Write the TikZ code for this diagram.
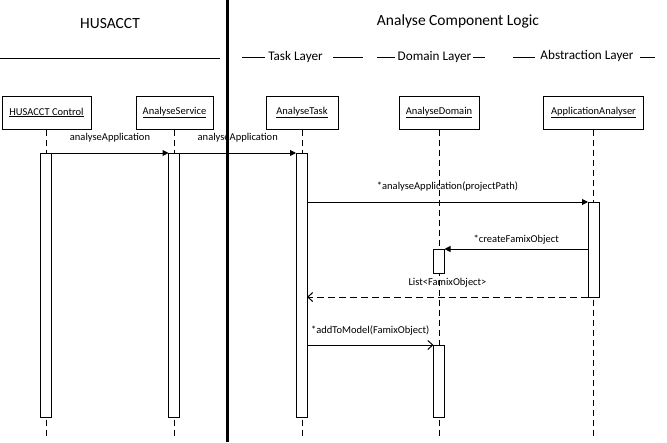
\documentclass[tikz,border=0pt]{standalone}
\usepackage{fontspec}
\setmainfont{Carlito}
\usetikzlibrary{arrows.meta}

\begin{document}
\begin{tikzpicture}[x=1pt, y=-1pt, line width=1pt,
            object/.style={draw, minimum height=33pt, inner sep=0pt, font=\fontsize{10.5}{12}\selectfont},
            bar/.style={draw, fill=white, minimum width=11pt, inner sep=0pt, outer sep=0pt, anchor=north},
            lifeline/.style={dash pattern=on 6pt off 4pt},
            call/.style={-{Triangle[length=6pt,width=6pt]}},
            async/.style={-{Straight Barb[length=5pt,width=9pt]}},
            reply/.style={dashed, dash pattern=on 7pt off 4pt, -{Straight Barb[length=5pt,width=9pt]}},
            label/.style={font=\fontsize{10.5}{12}\selectfont, inner sep=0pt},
            title/.style={font=\fontsize{15.5}{18}\selectfont},
            layer/.style={font=\fontsize{13.2}{15}\selectfont, inner sep=0pt}]
        \useasboundingbox (0,0) rectangle (667,442);
        \node[title] (husacct) at (110,24) {HUSACCT};
        \node[title] (logic) at (458,21) {Analyse Component Logic};
        \draw (0,58) -- (220,58);
        \node[layer] (tasklayer) at (295.5,57) {Task Layer};
        \draw (242,57) -- (265,57) (333,57) -- (363,57);
        \node[layer] (domainlayer) at (434.5,57) {Domain Layer};
        \draw (377,57) -- (395,57) (473,57) -- (485,57);
        \node[layer] (abstractionlayer) at (587,56) {Abstraction Layer};
        \draw (513,57) -- (535,57) (640,57) -- (655,57);
        \node[object, minimum width=89pt] (control) at (46.5,112.5) {\underline{HUSACCT Control}};
        \node[object, minimum width=77pt] (service) at (174.5,112.5) {\underline{AnalyseService}};
        \node[object, minimum width=72pt] (task) at (302,112.5) {\underline{AnalyseTask}};
        \node[object, minimum width=80pt] (domain) at (439,112.5) {\underline{AnalyseDomain}};
        \node[object, minimum width=100pt] (analyser) at (593.5,112.5) {\underline{ApplicationAnalyser}};
        \foreach \obj in {control, service, task, domain, analyser}
            \draw[lifeline] (\obj.south) -- ++(0,308);
        \node[bar, minimum height=264pt] (controlbar) at (46,153) {};
        \node[bar, minimum height=264pt] (servicebar) at (174,153) {};
        \node[bar, minimum height=264pt] (taskbar) at (301.5,153) {};
        \node[bar, minimum height=95pt] (analyserbar) at (593.5,202) {};
        \node[bar, minimum height=24pt] (domainbar) at (439,249) {};
        \node[bar, minimum height=72pt] (modelbar) at (439,345) {};
        \draw[line width=3pt] (227,0) -- (227,442);
        \draw[call] (controlbar.north east) -- (servicebar.north west)
            node[label, midway, above=10pt] {analyseApplication};
        \draw[call] (servicebar.north east) -- (taskbar.north west)
            node[label, midway, above=10pt] {analyseApplication};
        \draw[call] (taskbar.east |- analyserbar.north) -- (analyserbar.north west)
            node[label, midway, above=10pt] {*analyseApplication(projectPath)};
        \draw[call] (analyserbar.west |- domainbar.north) -- (domainbar.north east)
            node[label, midway, above=4pt] {*createFamixObject};
        \draw[reply] (analyserbar.south west) -- (taskbar.east |- analyserbar.south)
            node[label, midway, above=9pt] {List<FamixObject>};
        \draw[async] (taskbar.east |- modelbar.north) -- (modelbar.north west)
            node[label, midway, above=9pt] {*addToModel(FamixObject)};
\end{tikzpicture}
\end{document}
